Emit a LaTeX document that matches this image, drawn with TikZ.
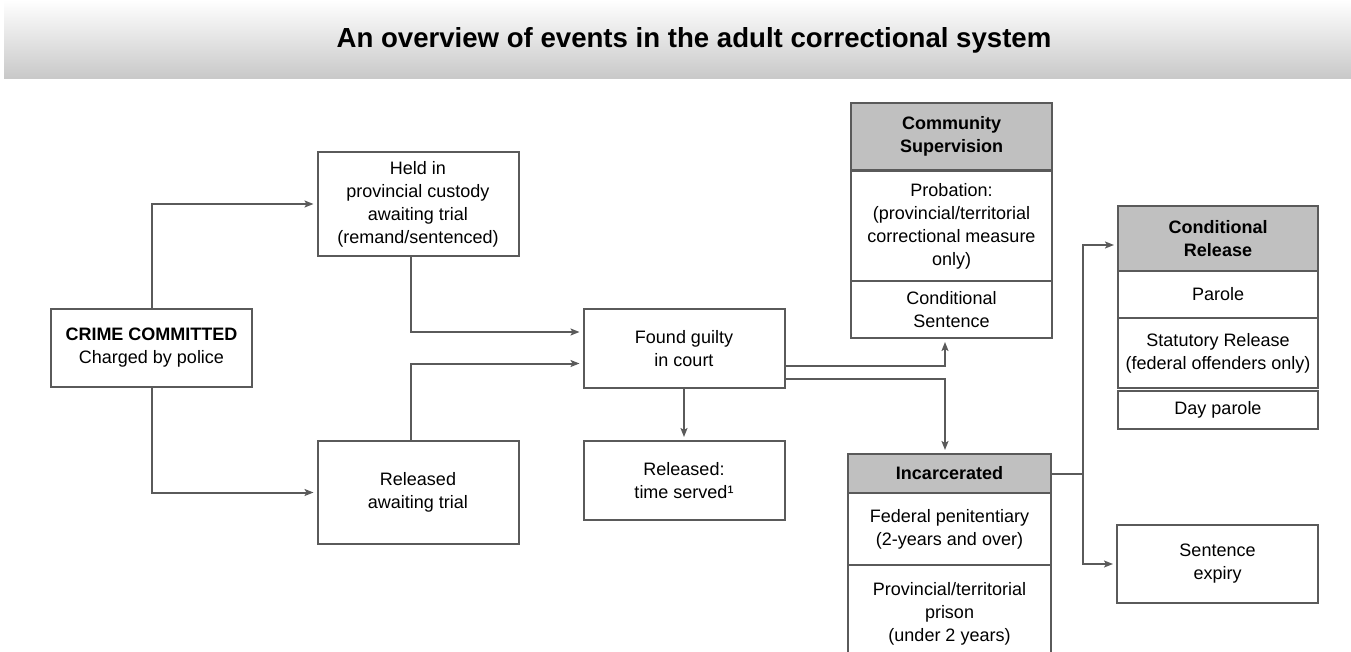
\documentclass[tikz,border=0pt]{standalone}
\usepackage{fontspec}
\setmainfont{Liberation Sans}
\usetikzlibrary{arrows.meta}
\definecolor{linegray}{HTML}{5A5A5A}
\definecolor{headgray}{HTML}{C0C0C0}
\definecolor{bannergray}{HTML}{C8C8C8}
\tikzset{
  box/.style={draw=linegray, line width=2pt, fill=white, minimum width=201pt, inner sep=0pt, align=center, font=\fontsize{18}{23}\selectfont},
  headbox/.style={box, fill=headgray, font=\fontsize{18}{23}\selectfont\bfseries},
  flow/.style={linegray, line width=2pt, -{Stealth[length=9pt,width=7pt,inset=2pt]}, shorten >=3pt},
  link/.style={linegray, line width=2pt}
}

\begin{document}
\begin{tikzpicture}[x=1pt,y=-1pt]
        \useasboundingbox (0,0) rectangle (1351,652);
        \shade[top color=white, bottom color=bannergray] (4,0) rectangle (1351,79);
        \node[font=\fontsize{27.6}{33}\selectfont\bfseries] (title) at (694,40) {An overview of events in the adult correctional system};
        \node[box, minimum height=78pt] (crime) at (151.5,348) {\textbf{CRIME COMMITTED}\\Charged by police};
        \node[box, minimum height=104pt] (held) at (418,204) {Held in\\provincial custody\\awaiting trial\\(remand/sentenced)};
        \node[box, minimum height=103pt] (relwait) at (418,492.5) {Released\\awaiting trial};
        \node[box, minimum height=79pt] (found) at (684,348.5) {Found guilty\\in court};
        \node[box, minimum height=79pt] (served) at (684,480.5) {Released:\\time served¹};
        \node[headbox, minimum height=67pt] (commhead) at (951.5,136.5) {Community\\Supervision};
        \node[box, minimum height=110pt] (probation) at (951.5,226) {Probation:\\(provincial/territorial\\correctional measure\\only)};
        \node[box, minimum height=57pt] (condsent) at (951.5,309.5) {Conditional\\Sentence};
        \node[headbox, minimum height=39pt, minimum width=203pt] (incarc) at (949.5,473.5) {Incarcerated};
        \node[box, minimum height=72pt, minimum width=203pt] (federal) at (949.5,529) {Federal penitentiary\\(2-years and over)};
        \node[box, minimum height=98pt, minimum width=203pt] (provincial) at (949.5,614) {Provincial/territorial\\prison\\(under 2 years)};
        \node[headbox, minimum height=65pt, minimum width=200pt] (crhead) at (1218,238.5) {Conditional\\Release};
        \node[box, minimum height=47pt, minimum width=200pt] (parole) at (1218,294.5) {Parole};
        \node[box, minimum height=70pt, minimum width=200pt] (statutory) at (1218,353) {Statutory Release\\(federal offenders only)};
        \node[box, minimum height=38pt, minimum width=200pt] (dayparole) at (1218,410) {Day parole};
        \node[box, minimum height=78pt] (expiry) at (1217.5,564) {Sentence\\expiry};
        \coordinate (fork) at (1083,473.5);
        \draw[flow] (crime.north) |- (held.west);
        \draw[flow] (crime.south) |- (relwait.west);
        \draw[flow] ([xshift=-7pt]held.south) |- ([yshift=16.5pt]found.west);
        \draw[flow] ([xshift=-7pt]relwait.north) |- ([yshift=-15pt]found.west);
        \draw[flow] (found.south) -- (served.north);
        \draw[flow] ([yshift=-17.5pt]found.east) -| ([xshift=-6.5pt]condsent.south);
        \draw[flow] ([yshift=-30.5pt]found.east) -| ([xshift=-4.5pt]incarc.north);
        \draw[link] (incarc.east) -- (fork);
        \draw[flow] (fork) |- ([yshift=-6.5pt]crhead.west);
        \draw[flow] (fork) |- (expiry.west);
    \end{tikzpicture}
\end{document}
